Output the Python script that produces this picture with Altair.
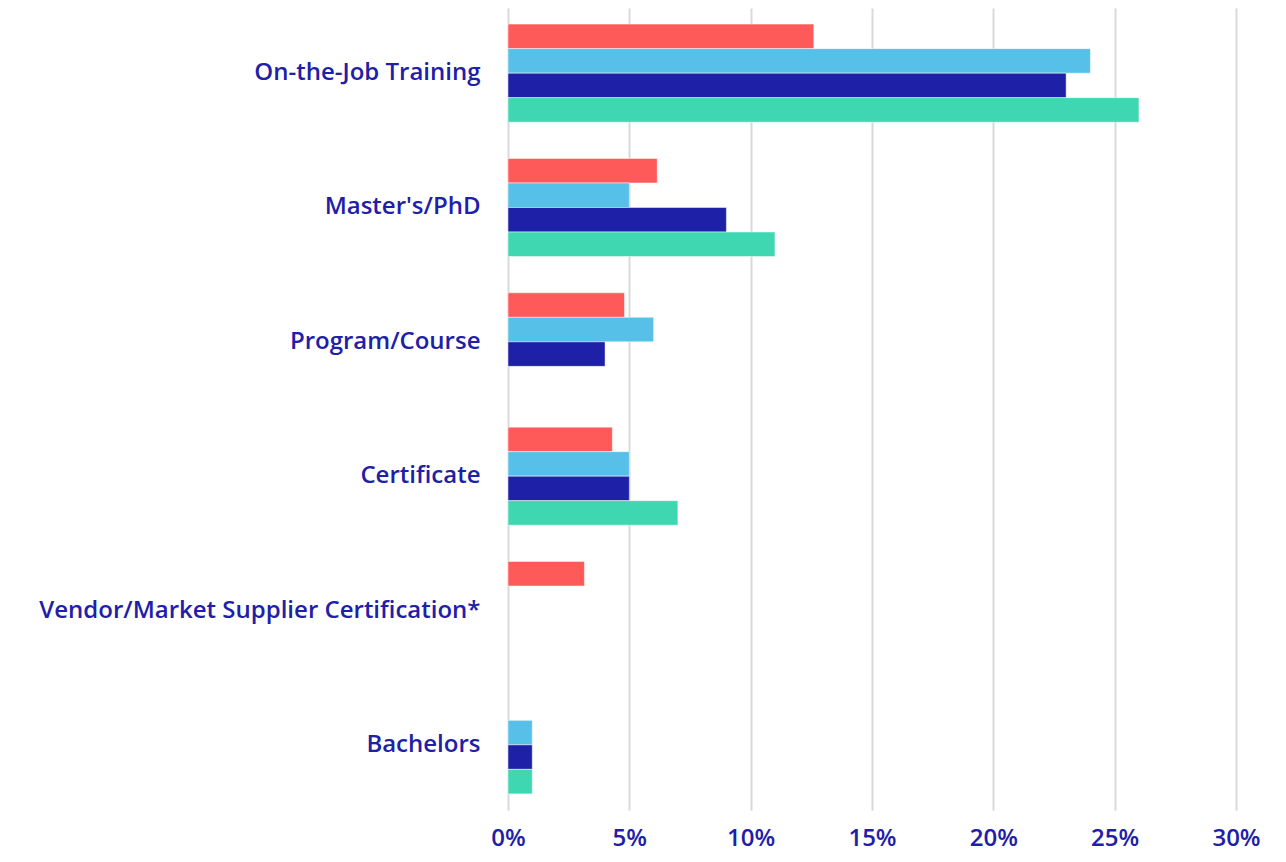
import altair as alt
import pandas as pd

categories = ["On-the-Job Training", "Master's/PhD", "Program/Course", "Certificate",
              "Vendor/Market Supplier Certification*", "Bachelors"]
series = ["Series A", "Series B", "Series C", "Series D"]
colors = ["#FF5A5A", "#56C0E8", "#1E20A8", "#3FD6B2"]

# values in percent, None = no bar
series_a = [12.6, 6.15, 4.8, 4.3, 3.15, None]
series_b = [24.0, 5.0, 6.0, 5.0, None, 1.0]
series_c = [23.0, 9.0, 4.0, 5.0, None, 1.0]
series_d = [26.0, 11.0, None, 7.0, None, 1.0]

rows = []
for s, vals in zip(series, [series_a, series_b, series_c, series_d]):
    for c, v in zip(categories, vals):
        if v is not None:
            rows.append({"category": c, "series": s, "value": v / 100})
df = pd.DataFrame(rows)

label_color = "#1E20A8"
font = "Open Sans"

chart = alt.Chart(df).mark_bar(stroke="white", strokeWidth=0.8, strokeOpacity=0.6).encode(
    y=alt.Y("category:N", sort=categories, title=None,
            scale=alt.Scale(paddingInner=0.27, paddingOuter=0.12),
            axis=alt.Axis(domain=False, ticks=False, tickSize=0, labelPadding=28,
                          labelFontSize=24, labelFont=font, labelFontWeight=600,
                          labelColor=label_color, labelLimit=600, grid=False)),
    yOffset=alt.YOffset("series:N", sort=series, scale=alt.Scale(domain=series)),
    x=alt.X("value:Q", title=None,
            scale=alt.Scale(domain=[0, 0.30], nice=False),
            axis=alt.Axis(format=".0%", values=[0, 0.05, 0.10, 0.15, 0.20, 0.25, 0.30],
                          domain=False, ticks=False, tickSize=0, labelPadding=16,
                          labelFontSize=24, labelFont=font, labelFontWeight=600,
                          labelColor=label_color, grid=True, gridColor="#D9D9D9",
                          gridWidth=2, labelFlush=False)),
    color=alt.Color("series:N", sort=series,
                    scale=alt.Scale(domain=series, range=colors), legend=None),
).properties(
    width=728, height=802,
    autosize=alt.AutoSizeParams(type="none"),
    padding={"left": 500, "top": 0, "right": 40, "bottom": 50},
).configure_view(stroke=None)

chart.save("out.html", embed_options={"renderer": "svg", "actions": False})
